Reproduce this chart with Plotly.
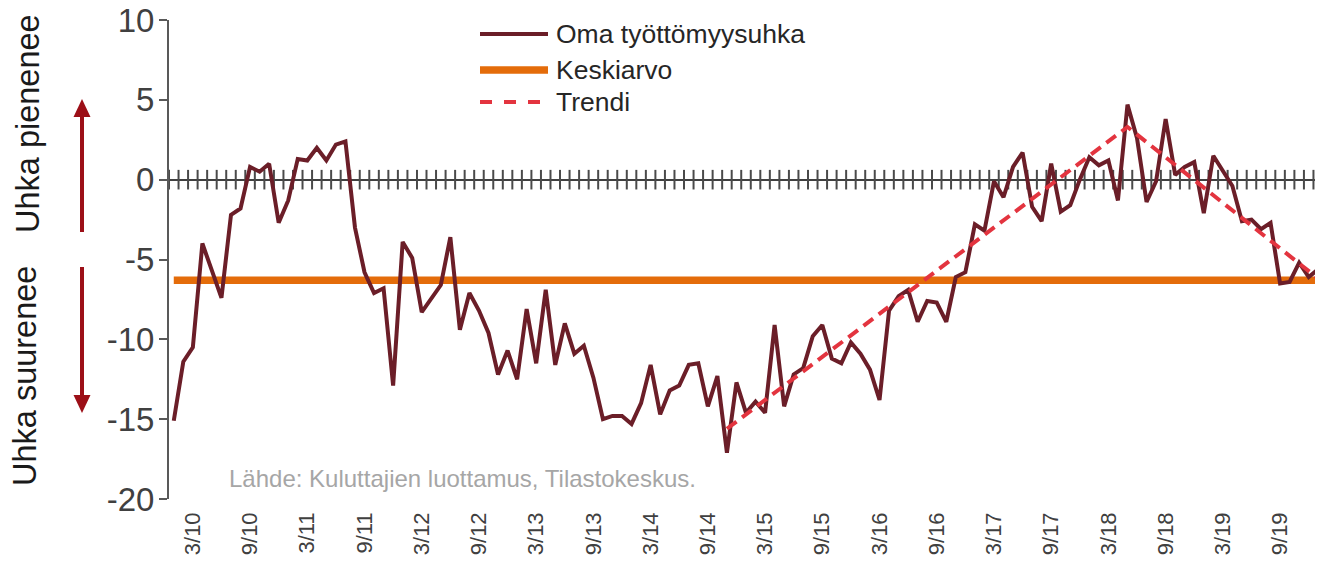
import pandas as pd
import plotly.graph_objects as go

# ---------------- data ----------------
months = pd.period_range("2010-01", "2020-01", freq="M")
oma_tyottomyysuhka = [
    -15.1, -11.4, -10.5, -4.0, -5.7, -7.4, -2.2, -1.8, 0.8, 0.5,
    1.0, -2.7, -1.3, 1.3, 1.2, 2.0, 1.2, 2.2, 2.4, -3.0,
    -5.8, -7.1, -6.8, -12.9, -3.9, -4.9, -8.3, -7.5, -6.6, -3.6,
    -9.4, -7.1, -8.2, -9.6, -12.2, -10.7, -12.5, -8.1, -11.5, -6.9,
    -11.6, -9.0, -10.9, -10.4, -12.4, -15.0, -14.8, -14.8, -15.3, -14.0,
    -11.6, -14.7, -13.2, -12.9, -11.6, -11.5, -14.2, -12.3, -17.1, -12.7,
    -14.6, -13.9, -14.6, -9.1, -14.2, -12.2, -11.8, -9.8, -9.1, -11.2,
    -11.5, -10.2, -10.9, -11.9, -13.8, -8.2, -7.3, -6.9, -8.9, -7.6,
    -7.7, -8.9, -6.1, -5.8, -2.8, -3.2, -0.1, -1.1, 0.8, 1.7,
    -1.7, -2.6, 1.0, -2.0, -1.6, 0.0, 1.4, 0.9, 1.2, -1.3,
    4.7, 2.6, -1.4, -0.1, 3.8, 0.3, 0.8, 1.1, -2.1, 1.5,
    0.5, -0.4, -2.6, -2.5, -3.1, -2.7, -6.5, -6.4, -5.2, -6.1,
    -5.6,
]
keskiarvo = -6.3
trendi_months = ["2014-11", "2018-05", "2020-01"]
trendi_values = [-15.6, 3.3, -6.2]

y_ticks = [-20, -15, -10, -5, 0, 5, 10]
y_tick_labels = ["-20", "-15", "-10", "-5", "0", "5", "10"]

# ---------------- derived ----------------
idx = list(range(len(months)))
pos = {str(m): i for i, m in enumerate(months)}
trend_x = [pos[m] for m in trendi_months]
tick_idx = [i for i, m in enumerate(months) if m.month in (3, 9)]
tick_text = [f"{months[i].month}/{str(months[i].year)[2:]}" for i in tick_idx]
minor_x = [i + 0.5 for i in range(-1, len(months))]

# ---------------- style ----------------
OFF = 8  # page body margin
W, H = 1323 - OFF, 562 - OFF
L, R, T = 169 - OFF, 0, 20 - OFF
B = H - (499 - OFF)
PW, PH = W - L - R, H - T - B
FONT = "Liberation Sans, Arial, sans-serif"
C_MAIN = "#6b1e28"
C_MEAN = "#e46c0a"
C_TREND = "#e3343f"
C_ARROW = "#9c0f17"
C_AXIS = "#595959"


def px(x):
    return (x - OFF - L) / PW


def py(y):
    return 1 - (y - OFF - T) / PH


fig = go.Figure()

# monthly cross ticks on the zero line
fig.add_trace(go.Scatter(
    x=minor_x, y=[0] * len(minor_x), mode="markers",
    marker=dict(symbol="line-ns", size=14, line=dict(color="#4a4a4a", width=2)),
    hoverinfo="skip", showlegend=False,
))
fig.add_trace(go.Scatter(
    x=[idx[0], idx[-1]], y=[keskiarvo, keskiarvo], mode="lines",
    line=dict(color=C_MEAN, width=7.5), name="Keskiarvo", showlegend=False,
))
fig.add_trace(go.Scatter(
    x=idx, y=oma_tyottomyysuhka, mode="lines",
    line=dict(color=C_MAIN, width=4), name="Oma työttömyysuhka", showlegend=False,
))
fig.add_trace(go.Scatter(
    x=trend_x, y=trendi_values, mode="lines",
    line=dict(color=C_TREND, width=4, dash="12px,7px"), name="Trendi", showlegend=False,
))

shapes = []
annotations = []

# custom legend
legend_items = [
    ("Oma työttömyysuhka", C_MAIN, 4, "solid", 34),
    ("Keskiarvo", C_MEAN, 7.5, "solid", 70),
    ("Trendi", C_TREND, 4, "dash", 102),
]
for label, col, wid, dash, yy in legend_items:
    shapes.append(dict(type="line", xref="paper", yref="paper",
                       x0=px(480), x1=px(548), y0=py(yy), y1=py(yy),
                       line=dict(color=col, width=wid, dash=dash)))
    annotations.append(dict(text=label, xref="paper", yref="paper",
                            x=px(554), y=py(yy), xanchor="left", yanchor="middle",
                            showarrow=False, font=dict(family=FONT, size=26.5, color="#262626")))

# arrows on the left
ax = 82
shapes.append(dict(type="line", xref="paper", yref="paper",
                   x0=px(ax), x1=px(ax), y0=py(232), y1=py(112),
                   line=dict(color=C_ARROW, width=4)))
shapes.append(dict(type="path", xref="paper", yref="paper",
                   path=f"M {px(ax)},{py(99)} L {px(ax-8.5)},{py(117)} L {px(ax+8.5)},{py(117)} Z",
                   fillcolor=C_ARROW, line=dict(color=C_ARROW, width=0)))
shapes.append(dict(type="line", xref="paper", yref="paper",
                   x0=px(ax), x1=px(ax), y0=py(267), y1=py(400),
                   line=dict(color=C_ARROW, width=4)))
shapes.append(dict(type="path", xref="paper", yref="paper",
                   path=f"M {px(ax)},{py(413)} L {px(ax-8.5)},{py(395)} L {px(ax+8.5)},{py(395)} Z",
                   fillcolor=C_ARROW, line=dict(color=C_ARROW, width=0)))

annotations.append(dict(text="Uhka pienenee", xref="paper", yref="paper",
                        x=px(28), y=py(124), xanchor="center", yanchor="middle",
                        textangle=-90, showarrow=False,
                        font=dict(family=FONT, size=32.5, color="#1a1a1a")))
annotations.append(dict(text="Uhka suurenee", xref="paper", yref="paper",
                        x=px(25), y=py(376), xanchor="center", yanchor="middle",
                        textangle=-90, showarrow=False,
                        font=dict(family=FONT, size=32.5, color="#1a1a1a")))
annotations.append(dict(text="Lähde: Kuluttajien luottamus, Tilastokeskus.", xref="paper", yref="paper",
                        x=px(227), y=py(478), xanchor="left", yanchor="middle",
                        showarrow=False, font=dict(family=FONT, size=24, color="#a6a6a6")))

fig.update_layout(
    width=W, height=H,
    margin=dict(l=L, r=R, t=T, b=B, pad=0, autoexpand=False),
    paper_bgcolor="white", plot_bgcolor="white",
    showlegend=False,
    shapes=shapes, annotations=annotations,
    font=dict(family=FONT, color="#404040"),
    xaxis=dict(
        range=[-0.5, len(months) - 0.5], automargin=False,
        tickmode="array", tickvals=tick_idx, ticktext=tick_text,
        tickangle=-90, tickfont=dict(family=FONT, size=22, color="#404040"),
        showgrid=False, zeroline=False, showline=False, ticks="",
        ticklabelstandoff=8,
    ),
    yaxis=dict(
        range=[-20, 10], automargin=False,
        tickmode="array", tickvals=y_ticks, ticktext=y_tick_labels,
        tickfont=dict(family=FONT, size=33, color="#404040"),
        showgrid=False, showline=True, linecolor=C_AXIS, linewidth=2,
        ticks="outside", ticklen=8, tickwidth=2, tickcolor=C_AXIS,
        zeroline=True, zerolinecolor="#404040", zerolinewidth=2,
        ticklabelstandoff=-2, ticklabeloverflow="allow",
    ),
)

fig.write_html("out.html")
